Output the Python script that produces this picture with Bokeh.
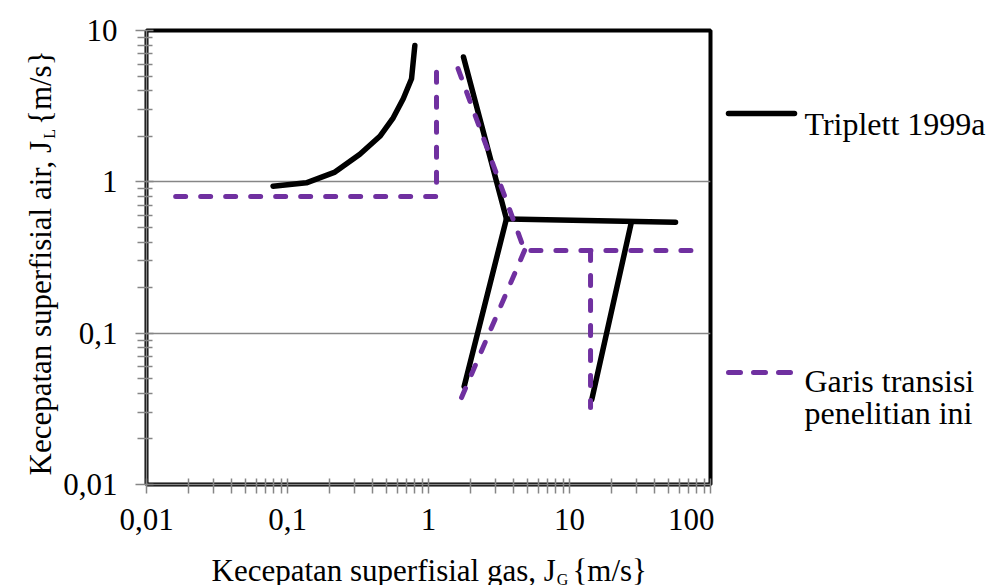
import math
from bokeh.plotting import figure
from bokeh.layouts import row, column
from bokeh.models import Range1d, FixedTicker
from bokeh.core.properties import value
from bokeh.embed import file_html
from bokeh.resources import INLINE

# ---------------- data ----------------
# Triplett 1999a transition lines (J_G, J_L), one list per drawn segment
triplett_jg = [
    [0.079, 0.136, 0.217, 0.326, 0.452, 0.562, 0.662, 0.758, 0.80],
    [1.77, 3.57, 1.79],
    [3.57, 56.5],
    [27.5, 14.4],
]
triplett_jl = [
    [0.936, 0.985, 1.16, 1.52, 2.0, 2.65, 3.54, 4.8, 7.95],
    [6.68, 0.569, 0.0444],
    [0.569, 0.541],
    [0.543, 0.0365],
]
# Transition lines of this study
study_jg = [
    [0.0161, 1.14, 1.14],
    [1.62, 4.80, 76.0],
    [4.80, 1.67],
    [14.1, 14.1],
]
study_jl = [
    [0.80, 0.80, 5.7],
    [5.6, 0.352, 0.352],
    [0.352, 0.0354],
    [0.352, 0.0323],
]

x_tick_values = [0.01, 0.1, 1, 10, 100]
x_tick_labels = ["0,01", "0,1", "1", "10", "100"]
y_tick_values = [0.01, 0.1, 1, 10]
y_tick_labels = ["0,01", "0,1", "1", "10"]

legend_texts = ["Triplett 1999a", "Garis transisi", "penelitian ini"]

# ---------------- styling / layout ----------------
FONT = "Liberation Serif"
PURPLE = "#7030A0"
GRAY = "#868686"
H = 585                      # total page height
YT_W = 60                    # y-title strip width
MAIN_L, MAIN_R, MAIN_T, MAIN_B = 85, 4, 30, 66
FW, FH = 564, 454
FRAME_L = YT_W + MAIN_L      # 145
FRAME_R = FRAME_L + FW       # 709
FRAME_T = MAIN_T             # 30
FRAME_B = MAIN_T + FH        # 484
MAIN_W = MAIN_L + FW + MAIN_R
MAIN_H = MAIN_T + FH + MAIN_B
OVERLAP = 20                 # x-title strip overlaps the plot's bottom border
XT_H = H - MAIN_H + OVERLAP
LG_X0 = YT_W + MAIN_W
LG_W = 987 - LG_X0
TF = 31
SUB = 16

common = dict(toolbar_location=None, output_backend="svg")

def strip(w, left, right, top, bottom, fw, fh, xr, yr, fill="white"):
    f = figure(width=w, height=top + fh + bottom, frame_width=fw, frame_height=fh,
               min_border_left=left, min_border_right=right,
               min_border_top=top, min_border_bottom=bottom,
               x_range=Range1d(*xr), y_range=Range1d(*yr),
               x_axis_location=None, y_axis_location=None,
               background_fill_color=fill, border_fill_color=fill, **common)
    f.outline_line_color = None
    f.grid.visible = False
    return f

p = figure(
    x_axis_type="log", y_axis_type="log",
    x_range=Range1d(0.01, 100), y_range=Range1d(0.01, 10),
    frame_width=FW, frame_height=FH,
    min_border_left=MAIN_L, min_border_right=MAIN_R,
    min_border_top=MAIN_T, min_border_bottom=MAIN_B,
    background_fill_color="white", border_fill_color="white", **common)
p.outline_line_color = "black"
p.outline_line_width = 4

minor_x = [m * d for d in [0.01, 0.1, 1, 10] for m in range(2, 10)]
minor_y = [m * d for d in [0.01, 0.1, 1] for m in range(2, 10)]
p.xaxis.ticker = FixedTicker(ticks=x_tick_values, minor_ticks=minor_x)
p.yaxis.ticker = FixedTicker(ticks=y_tick_values, minor_ticks=minor_y)
p.xaxis.major_label_overrides = dict(zip(x_tick_values, x_tick_labels))
p.yaxis.major_label_overrides = dict(zip(y_tick_values, y_tick_labels))

for ax in (p.xaxis, p.yaxis):
    ax.axis_line_color = GRAY
    ax.axis_line_width = 1.5
    ax.major_tick_line_color = GRAY
    ax.major_tick_line_width = 1.5
    ax.minor_tick_line_color = GRAY
    ax.minor_tick_line_width = 1.5
    ax.major_label_text_font = FONT
    ax.major_label_text_font_size = "31px"
    ax.major_label_text_color = "black"
p.xaxis.major_tick_out = 9
p.xaxis.major_tick_in = 6
p.xaxis.minor_tick_out = 9
p.xaxis.minor_tick_in = 6
p.yaxis.major_tick_out = 11
p.yaxis.major_tick_in = 7
p.yaxis.minor_tick_out = 9
p.yaxis.minor_tick_in = 6
p.xaxis.major_label_standoff = 15
p.yaxis.major_label_standoff = 18

p.xgrid.visible = False
p.ygrid.grid_line_color = GRAY
p.ygrid.grid_line_width = 1.5

for xs, ys in zip(triplett_jg, triplett_jl):
    p.line(xs, ys, line_color="black", line_width=5.5, line_cap="round", line_join="round")
for xs, ys in zip(study_jg, study_jl):
    p.line(xs, ys, line_color=PURPLE, line_width=5, line_cap="round", line_join="round",
           line_dash="10 15")

txt = dict(text_font=value(FONT), text_color="black",
           text_baseline="alphabetic", text_align="left")

# side strips: frames span from the plot-frame top to the page bottom,
# y coordinates are page coordinates flipped: y = H - page_y
SIDE_FH = H - FRAME_T

# ---------------- y title strip (rotated, with subscript) ----------------
yt = strip(YT_W, 0, 0, FRAME_T, 0, YT_W, SIDE_FH, (0, YT_W), (0, SIDE_FH))
yb_x = 40                      # baseline x
y_start = H - 475              # bottom start of the text
w1 = 10.83 * TF                # width of "Kecepatan superfisial air, J"
yt.text(x=[yb_x], y=[y_start], text=["Kecepatan superfisial air, J"], angle=math.pi / 2,
        text_font_size=f"{TF}px", **txt)
yt.text(x=[yb_x + 9], y=[y_start + w1 + 1], text=["L"], angle=math.pi / 2,
        text_font_size=f"{SUB}px", **txt)
yt.text(x=[yb_x], y=[y_start + w1 + 0.611 * SUB + 5], text=["{m/s}"], angle=math.pi / 2,
        text_font_size=f"{TF}px", **txt)

# ---------------- x title strip (same horizontal geometry as the plot, transparent) ----
xt = strip(MAIN_W, MAIN_L, MAIN_R, 0, 0, FW, XT_H, (FRAME_L, FRAME_R), (0, XT_H), fill=None)
xt.margin = (-OVERLAP, 0, 0, 0)
x_start = 210
x_base = H - 570
w1x = 11.108 * TF              # width of "Kecepatan superfisial gas, J"
xt.text(x=[x_start], y=[x_base], text=["Kecepatan superfisial gas, J"],
        text_font_size=f"{TF}px", **txt)
xt.text(x=[x_start + w1x + 1], y=[H - 579], text=["G"], text_font_size=f"{SUB}px", **txt)
xt.text(x=[x_start + w1x + 0.722 * SUB + 5], y=[x_base], text=["{m/s}"],
        text_font_size=f"{TF}px", **txt)

# ---------------- legend strip ----------------
lg = strip(LG_W, 0, 0, FRAME_T, 0, LG_W, SIDE_FH, (LG_X0, 987), (0, SIDE_FH))
lg.line([727, 793], [H - 113, H - 113], line_color="black",
        line_width=5.5, line_cap="round")
lg.line([727, 791], [H - 372, H - 372], line_color=PURPLE,
        line_width=5, line_cap="round", line_dash="12 13")
lg.text(x=[803] * 3, y=[H - 123, H - 380, H - 412], text=legend_texts,
        text_font_size="32px", **txt)

layout = row(yt, column(p, xt, spacing=0), lg, spacing=0)
open("out.html", "w").write(file_html(layout, INLINE))
